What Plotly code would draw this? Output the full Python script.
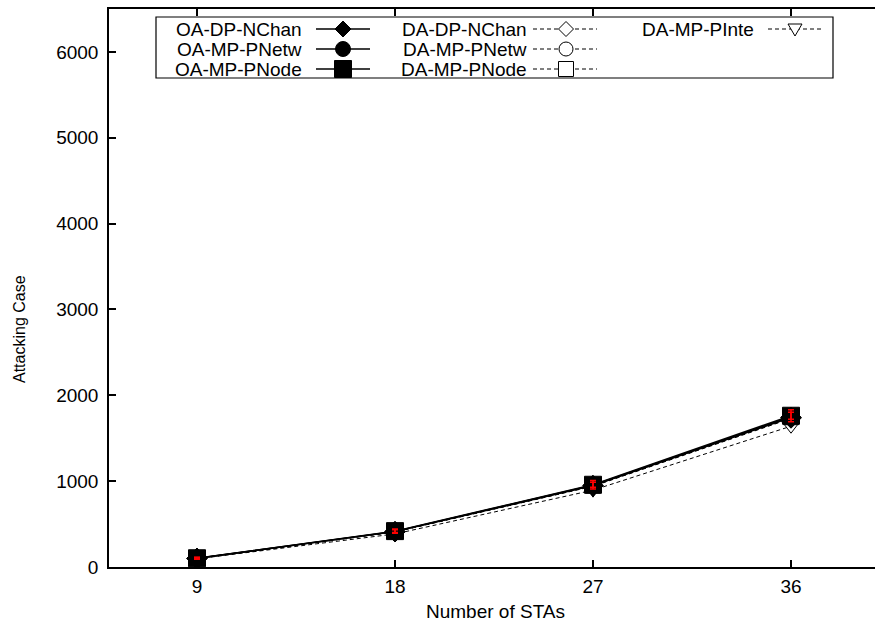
import plotly.graph_objects as go

# ---- data ----
x_sta = [9, 18, 27, 36]
x_ticks = [9, 18, 27, 36]
y_ticks = [0, 1000, 2000, 3000, 4000, 5000, 6000]

oa_dp_nchan = [100, 412, 948, 1742]
oa_mp_pnetw = [101, 415, 952, 1750]
oa_mp_pnode = [102, 418, 958, 1762]
da_dp_nchan = [99, 408, 940, 1730]
da_mp_pnetw = [99, 410, 944, 1736]
da_mp_pnode = [100, 412, 948, 1745]
da_mp_pinte = [95, 385, 895, 1640]

err_a = [12, 25, 50, 70]
err_b = [8, 15, 30, 40]

series = [
    ("OA-DP-NChan", oa_dp_nchan, "diamond", "solid"),
    ("OA-MP-PNetw", oa_mp_pnetw, "circle", "solid"),
    ("OA-MP-PNode", oa_mp_pnode, "square", "solid"),
    ("DA-DP-NChan", da_dp_nchan, "diamond-open", "dash"),
    ("DA-MP-PNetw", da_mp_pnetw, "circle-open", "dash"),
    ("DA-MP-PNode", da_mp_pnode, "square-open", "dash"),
    ("DA-MP-PInte", da_mp_pinte, "triangle-down-open", "dash"),
]

FONT = "Liberation Sans"
FS = 19
DASH = "4px,3px"
sizes = {"diamond": 16, "circle": 15, "square": 17, "diamond-open": 15,
         "circle-open": 14, "square-open": 15, "triangle-down-open": 14}

W, H = 875, 628
fig = go.Figure()

order = [6, 3, 4, 5, 0, 1, 2]
for i in order:
    name, ys, sym, ls = series[i]
    fig.add_trace(go.Scatter(
        x=x_sta, y=ys, mode="lines+markers", name=name, showlegend=False,
        line=dict(color="black", width=1.5 if ls == "solid" else 1,
                  dash="solid" if ls == "solid" else DASH),
        marker=dict(symbol=sym, size=sizes[sym], color="black",
                    line=dict(color="black", width=1)),
    ))

for e in (err_a, err_b):
    fig.add_trace(go.Scatter(
        x=x_sta, y=oa_mp_pnode, mode="markers", showlegend=False,
        marker=dict(size=1, color="rgba(0,0,0,0)"),
        error_y=dict(type="data", array=e, color="red", thickness=1.5, width=3),
    ))

# ---- manual legend (pixel layout converted to paper coords) ----
PL, PR, PT, PB = 109, 875, 9, 567


def px(v):
    return (v - PL) / (PR - PL)


def py(v):
    return (PB - v) / (PB - PT)


legend_rows = [29, 49, 69]
cols = [
    dict(text_right=304, line=(316, 370), mark=343),
    dict(text_right=529, line=(533, 597), mark=566),
    dict(text_right=756, line=(768, 822), mark=795),
]
layout_pos = [(0, 0), (0, 1), (0, 2), (1, 0), (1, 1), (1, 2), (2, 0)]

shapes = [dict(type="rect", xref="paper", yref="paper", x0=px(156), x1=px(833),
               y0=py(17), y1=py(78), line=dict(color="black", width=1.2),
               fillcolor="white", layer="below")]
annotations = []


def marker_shape(sym, cx, cy):
    base = dict(xref="paper", yref="paper", xsizemode="pixel", ysizemode="pixel",
                xanchor=px(cx), yanchor=py(cy), layer="above")
    filled = not sym.endswith("open")
    fill = "black" if filled else "white"
    ln = dict(color="black", width=1)
    if sym.startswith("diamond"):
        r = 8 if filled else 7.5
        return dict(type="path", path=f"M0,{r} L{r},0 L0,{-r} L{-r},0 Z",
                    fillcolor=fill, line=ln, **base)
    if sym.startswith("circle"):
        r = 7.5 if filled else 7
        return dict(type="circle", x0=-r, x1=r, y0=-r, y1=r,
                    fillcolor=fill, line=ln, **base)
    if sym.startswith("square"):
        r = 8.5 if filled else 7.5
        return dict(type="rect", x0=-r, x1=r, y0=-r, y1=r,
                    fillcolor=fill, line=ln, **base)
    return dict(type="path", path="M-7,5 L7,5 L0,-7 Z",
                fillcolor=fill, line=ln, **base)


for (name, ys, sym, ls), (c, r) in zip(series, layout_pos):
    col = cols[c]
    yy = legend_rows[r]
    shapes.append(dict(
        type="line", xref="paper", yref="paper",
        x0=px(col["line"][0]), x1=px(col["line"][1]), y0=py(yy), y1=py(yy),
        line=dict(color="black", width=1.5 if ls == "solid" else 1,
                  dash="solid" if ls == "solid" else DASH)))
    shapes.append(marker_shape(sym, col["mark"], yy))
    annotations.append(dict(
        x=px(col["text_right"]), y=py(yy), xref="paper", yref="paper", text=name,
        showarrow=False, xanchor="right", yanchor="middle",
        font=dict(family=FONT, size=FS, color="black")))

annotations.append(dict(
    text="Attacking Case", x=px(19), y=py(329), xref="paper", yref="paper",
    showarrow=False, textangle=-90, xanchor="center", yanchor="middle",
    font=dict(family=FONT, size=16, color="black")))
annotations.append(dict(
    text="Number of STAs", x=px(495), y=py(611), xref="paper", yref="paper",
    showarrow=False, xanchor="center", yanchor="middle",
    font=dict(family=FONT, size=FS, color="black")))

fig.update_layout(
    width=W, height=H,
    margin=dict(l=PL, r=W - PR, t=PT, b=H - PB),
    paper_bgcolor="white", plot_bgcolor="white",
    showlegend=False,
    font=dict(family=FONT, size=FS, color="black"),
    xaxis=dict(
        range=[5, 5 + (PR - PL) / 22.0], tickmode="array", tickvals=x_ticks,
        ticks="inside", ticklen=7, tickwidth=1.5, tickcolor="black",
        showline=True, linecolor="black", linewidth=1.5, mirror="ticks",
        showgrid=False, zeroline=False, ticklabelstandoff=1,
        tickfont=dict(family=FONT, size=FS, color="black"),
    ),
    yaxis=dict(
        range=[0, 6500], tickmode="array", tickvals=y_ticks,
        ticks="inside", ticklen=7, tickwidth=1.5, tickcolor="black",
        showline=True, linecolor="black", linewidth=1.5, mirror=False,
        showgrid=False, zeroline=False, ticklabelstandoff=5,
        tickfont=dict(family=FONT, size=FS, color="black"),
    ),
    annotations=annotations,
    shapes=shapes,
)

fig.write_html("out.html")
